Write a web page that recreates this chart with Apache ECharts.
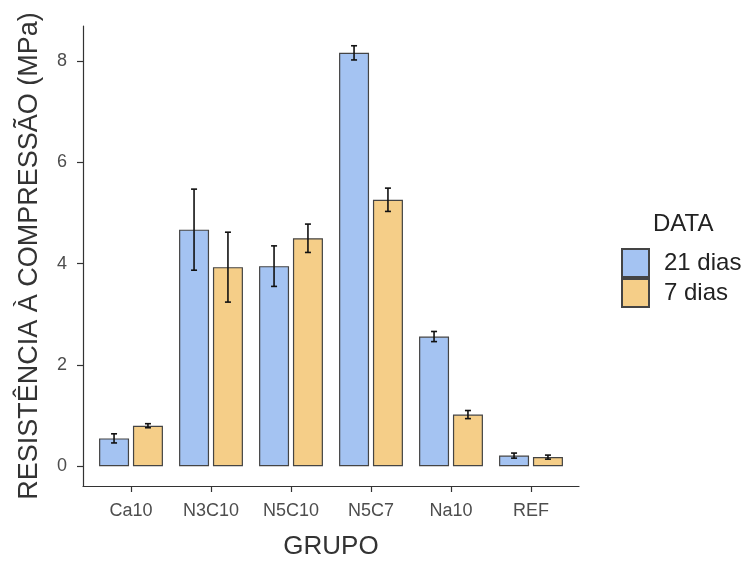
<!DOCTYPE html>
<html>
<head>
<meta charset="utf-8">
<script src="https://cdn.jsdelivr.net/npm/echarts@6/dist/echarts.min.js"></script>
<style>
html,body{margin:0;padding:0;background:#fff;}
#chart{width:753px;height:565px;}
</style>
</head>
<body>
<div id="chart"></div>
<script>
// ---- data ----
const categories = ['Ca10', 'N3C10', 'N5C10', 'N5C7', 'Na10', 'REF'];
const seriesNames = ['21 dias', '7 dias'];
const mean21 = [0.55, 4.67, 3.95, 8.16, 2.56, 0.21];
const err21  = [0.09, 0.80, 0.40, 0.14, 0.10, 0.05];
const mean7  = [0.80, 3.93, 4.50, 5.26, 1.02, 0.18];
const err7   = [0.04, 0.69, 0.28, 0.23, 0.08, 0.04];
const yTicks = [0, 2, 4, 6, 8];

// ---- styling ----
const FONT = 'Liberation Sans, Arial, sans-serif';
const BAR_W = 30;
const BAR_GAP_PCT = 13;
const colors = ['#A4C3F2', '#F5CE88'];
const borderCol = '#444444';

const xIdx = categories.map((_, i) => i);
const means = [mean21, mean7];
const errs = [err21, err7];

const barSeries = seriesNames.map((name, s) => ({
  name: name,
  type: 'bar',
  barWidth: BAR_W,
  barGap: BAR_GAP_PCT + '%',
  itemStyle: { color: colors[s], borderColor: borderCol, borderWidth: 1.2 },
  data: xIdx.map(i => [i, means[s][i]])
}));

const offsetPx = (BAR_W + BAR_W * BAR_GAP_PCT / 100) / 2;
const errSeries = seriesNames.map((name, s) => ({
  type: 'custom',
  name: name + ' err',
  z: 5,
  data: xIdx.map(i => [i, means[s][i] - errs[s][i], means[s][i] + errs[s][i]]),
  renderItem: function (params, api) {
    const lo = api.coord([api.value(0), api.value(1)]);
    const hi = api.coord([api.value(0), api.value(2)]);
    const cx = lo[0] + (s === 0 ? -offsetPx : offsetPx);
    const cap = 3;
    const style = { stroke: '#111', lineWidth: 1.6 };
    return {
      type: 'group',
      children: [
        { type: 'line', shape: { x1: cx, y1: hi[1], x2: cx, y2: lo[1] }, style: style },
        { type: 'line', shape: { x1: cx - cap, y1: hi[1], x2: cx + cap, y2: hi[1] }, style: style },
        { type: 'line', shape: { x1: cx - cap, y1: lo[1], x2: cx + cap, y2: lo[1] }, style: style }
      ]
    };
  }
}));

const chart = echarts.init(document.getElementById('chart'));
chart.setOption({
  animation: false,
  backgroundColor: '#ffffff',
  textStyle: { fontFamily: FONT },
  title: {
    text: 'DATA',
    left: 653, top: 212, padding: 0,
    textStyle: { fontFamily: FONT, fontSize: 24, fontWeight: 'normal', color: '#222' }
  },
  legend: {
    data: seriesNames,
    orient: 'vertical',
    left: 621, top: 248, padding: 0,
    itemWidth: 27, itemHeight: 28, itemGap: 0,
    icon: 'rect',
    textStyle: { fontFamily: FONT, fontSize: 24, color: '#222', padding: [0, 0, 0, 10] }
  },
  grid: { left: 83, right: 174, top: 26, bottom: 75, containLabel: false },
  xAxis: {
    type: 'value',
    min: -0.6, max: 5.6,
    name: 'GRUPO',
    nameLocation: 'middle',
    nameGap: 48,
    nameTextStyle: { fontFamily: FONT, fontSize: 26, color: '#333' },
    axisLine: { show: true, onZero: false, lineStyle: { color: '#333', width: 1.2 } },
    axisTick: { show: true, length: 6, customValues: xIdx, lineStyle: { color: '#333', width: 1.2 } },
    axisLabel: {
      customValues: xIdx,
      formatter: v => categories[Math.round(v)],
      fontFamily: FONT, fontSize: 18, color: '#4d4d4d', margin: 16
    },
    splitLine: { show: false }
  },
  yAxis: {
    type: 'value',
    min: -0.39, max: 8.69,
    name: 'RESISTÊNCIA À COMPRESSÃO (MPa)',
    nameLocation: 'middle',
    nameGap: 40,
    nameTextStyle: { fontFamily: FONT, fontSize: 27, color: '#333' },
    axisLine: { show: true, onZero: false, lineStyle: { color: '#333', width: 1.2 } },
    axisTick: { show: true, length: 6, customValues: yTicks, lineStyle: { color: '#333', width: 1.2 } },
    axisLabel: {
      customValues: yTicks,
      fontFamily: FONT, fontSize: 18, color: '#4d4d4d', margin: 16
    },
    splitLine: { show: false }
  },
  series: barSeries.concat(errSeries)
});
</script>
</body>
</html>
